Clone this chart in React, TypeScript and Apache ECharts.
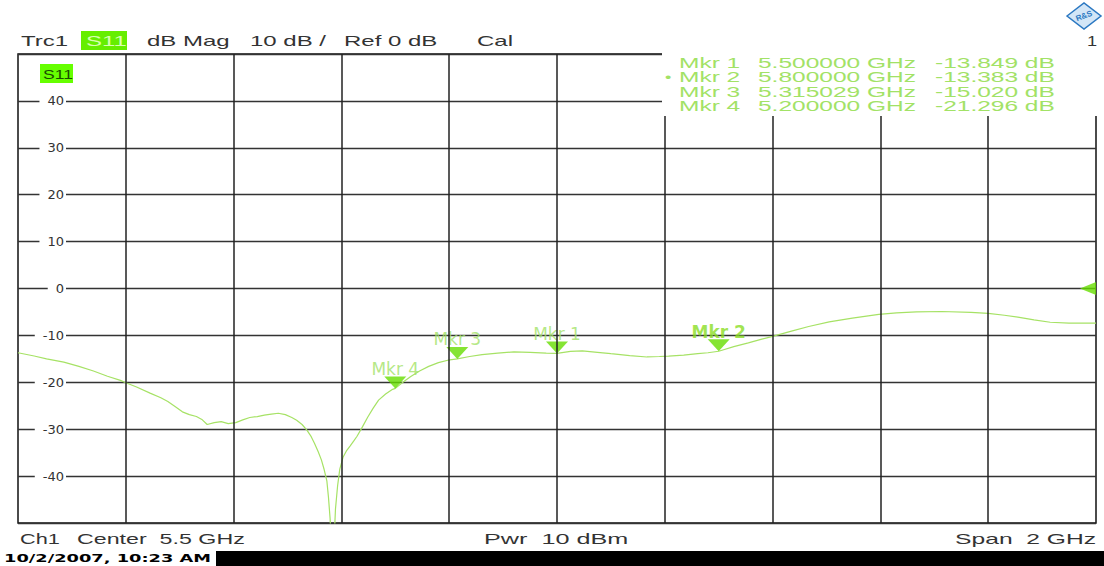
import React, { useEffect, useRef } from "react";
import * as echarts from "echarts";

// ---- Instrument settings ----
const CENTER_GHZ = 5.5;
const SPAN_GHZ = 2;
const REF_LEVEL_DB = 0;
const Y_MIN = -50;
const Y_MAX = 50;
const Y_STEP = 10;
const X_GRID_GHZ = [4.7, 4.9, 5.1, 5.3, 5.5, 5.7, 5.9, 6.1, 6.3];

// ---- Trace S11 (dB) ----
const FREQ_GHZ = [
  4.5, 4.53, 4.553, 4.585, 4.613, 4.64, 4.666, 4.69, 4.7, 4.72, 4.745, 4.765, 4.778, 4.792, 4.805,
  4.818, 4.831, 4.842, 4.851, 4.864, 4.877, 4.89, 4.904, 4.917, 4.93, 4.944, 4.957, 4.97, 4.983,
  4.996, 5.008, 5.017, 5.027, 5.036, 5.044, 5.05, 5.057, 5.063, 5.068, 5.073, 5.076, 5.079, 5.082,
  5.086, 5.089, 5.093, 5.097, 5.103, 5.11, 5.116, 5.123, 5.129, 5.139, 5.149, 5.159, 5.169, 5.182,
  5.195, 5.2, 5.214, 5.228, 5.245, 5.262, 5.28, 5.301, 5.315, 5.338, 5.361, 5.39, 5.42, 5.45, 5.48,
  5.5, 5.525, 5.547, 5.575, 5.6, 5.635, 5.667, 5.69, 5.707, 5.735, 5.761, 5.78, 5.8, 5.828, 5.855,
  5.88, 5.9, 5.935, 5.967, 6.005, 6.048, 6.097, 6.13, 6.167, 6.214, 6.268, 6.3, 6.33, 6.355, 6.385,
  6.415, 6.45, 6.5,
];
const S11_DB = [
  -13.7, -14.4, -15.0, -15.7, -16.6, -17.6, -18.7, -19.6, -20.1, -21.0, -22.3, -23.3, -24.1, -25.2,
  -26.3, -26.9, -27.3, -28.0, -29.0, -28.6, -28.4, -28.8, -28.6, -28.0, -27.5, -27.3, -27.0, -26.8,
  -26.6, -26.9, -27.5, -28.1, -29.0, -30.2, -31.6, -33.0, -34.8, -36.6, -38.6, -41.0, -44.5, -49.0,
  -56.0, -55.0, -47.0, -42.0, -38.5, -36.0, -34.5, -33.6, -32.5, -31.5, -29.5, -27.4, -25.5, -23.8,
  -22.5, -21.5, -21.3, -20.0, -18.8, -17.6, -16.6, -15.8, -15.2, -15.0, -14.5, -14.1, -13.8, -13.5,
  -13.6, -13.8, -13.85, -13.4, -13.3, -13.6, -13.9, -14.3, -14.6, -14.5, -14.4, -14.2, -13.9, -13.7,
  -13.38, -12.4, -11.6, -10.8, -10.2, -9.1, -8.1, -7.1, -6.3, -5.5, -5.2, -5.0, -4.9, -5.1, -5.3,
  -5.7, -6.1, -6.7, -7.2, -7.4, -7.4,
];

// ---- Markers ----
const MKR_NAMES = ["Mkr 1", "Mkr 2", "Mkr 3", "Mkr 4"];
const MKR_FREQ_GHZ = [5.5, 5.8, 5.315029, 5.2];
const MKR_DB = [-13.849, -13.383, -15.02, -21.296];
const ACTIVE_MKR = 1;

// ---- Header / footer texts ----
const HEADER_TEXTS = ["Trc1", "S11", "dB Mag", "10 dB /", "Ref 0 dB", "Cal"];
const CHANNEL = "Ch1";
const PWR_DBM = 10;
const TIMESTAMP = "10/2/2007, 10:23 AM";

const TRACE_COLOR = "#a6e265";
const MKR_COLOR = "#66dd00";
const MKR_TEXT = "#a2e266";
const FONT = "Liberation Sans";

function txt(x: number, y: number, text: string, fontSize: number, scaleX: number, extra: any = {}) {
  return {
    type: "text",
    x,
    y,
    scaleX,
    z: 100,
    silent: true,
    style: {
      text,
      fontSize,
      fontFamily: FONT,
      fill: "#333",
      align: "left",
      verticalAlign: "middle",
      textAlign: "left",
      textVerticalAlign: "middle",
      ...extra,
    },
  };
}

export default function App() {
  const ref = useRef<HTMLDivElement>(null);

  useEffect(() => {
    if (!ref.current) return;
    const chart = echarts.init(ref.current, undefined, { renderer: "svg" });
    const fStart = CENTER_GHZ - SPAN_GHZ / 2;
    const fStop = CENTER_GHZ + SPAN_GHZ / 2;

    const headerX = [21, 86, 147, 250, 344, 477];
    const graphics: any[] = [];
    // header
    graphics.push({ type: "rect", z: 99, silent: true, shape: { x: 81, y: 31, width: 46, height: 19 }, style: { fill: "#66ee00" } });
    HEADER_TEXTS.forEach((t, i) => {
      graphics.push(txt(headerX[i], 41, t, 15, 1.6, i === 1 ? { fill: "#d8ffb0" } : {}));
    });
    // S11 label inside plot
    graphics.push({ type: "rect", z: 99, silent: true, shape: { x: 40, y: 64, width: 33, height: 19 }, style: { fill: "#66ff00" } });
    graphics.push(txt(43, 74, HEADER_TEXTS[1], 13, 1.35, { fill: "#1a4d00" }));
    // marker table background
    graphics.push({ type: "rect", z: 99, silent: true, shape: { x: 662, y: 47, width: 442, height: 69 }, style: { fill: "#ffffff" } });
    const rowY = [63, 77.5, 92, 106.5];
    MKR_NAMES.forEach((n, i) => {
      const c = { fill: MKR_TEXT };
      if (i === ACTIVE_MKR) graphics.push(txt(665, rowY[i], "•", 13, 1.4, c));
      graphics.push(txt(679, rowY[i], n, 14, 1.75, c));
      graphics.push(txt(758, rowY[i], MKR_FREQ_GHZ[i].toFixed(6) + " GHz", 14, 1.75, c));
      graphics.push(txt(935, rowY[i], MKR_DB[i].toFixed(3) + " dB", 14, 1.75, c));
    });
    // logo
    graphics.push({
      type: "polygon", z: 100, silent: true,
      shape: { points: [[1067, 16], [1084, 3], [1101, 16], [1084, 29]] },
      style: { fill: "#d3e6f7", stroke: "#2b78c2", lineWidth: 1.5 },
    });
    graphics.push({
      type: "text", z: 101, silent: true, x: 1084, y: 16, rotation: 0.35,
      style: { text: "R&S", fontSize: 8, fontWeight: "bold", fontFamily: FONT, fill: "#2b78c2", align: "center", verticalAlign: "middle", textAlign: "center", textVerticalAlign: "middle" },
    });
    graphics.push(txt(1087, 41, "1", 14, 1.3));
    // footer
    graphics.push(txt(20, 539, CHANNEL, 14, 1.55));
    graphics.push(txt(77, 539, `Center  ${CENTER_GHZ} GHz`, 14, 1.66));
    graphics.push(txt(484, 539, `Pwr  ${PWR_DBM} dBm`, 14, 1.8));
    graphics.push(txt(1096, 539, `Span  ${SPAN_GHZ} GHz`, 14, 1.76, { align: "right", textAlign: "right" }));
    graphics.push({ type: "rect", z: 99, silent: true, shape: { x: 216, y: 551, width: 888, height: 15 }, style: { fill: "#000" } });
    graphics.push(txt(4, 558, TIMESTAMP, 11, 1.62, { fontFamily: "DejaVu Sans", fontWeight: "bold", fill: "#000" }));

    const option: any = {
      animation: false,
      backgroundColor: "#ffffff",
      grid: {
        left: 18, top: 54, width: 1078, height: 469,
        show: true, borderColor: "#111", borderWidth: 1.5, backgroundColor: "transparent",
      },
      xAxis: {
        type: "value", min: fStart, max: fStop,
        axisLine: { show: false }, axisTick: { show: false }, axisLabel: { show: false }, splitLine: { show: false },
      },
      yAxis: {
        type: "value", min: Y_MIN, max: Y_MAX, interval: Y_STEP,
        axisLine: { show: false }, axisTick: { show: false },
        splitLine: { show: true, lineStyle: { color: "#333", width: 1.3 } },
        axisLabel: {
          inside: true, align: "right", margin: 48, showMinLabel: false, showMaxLabel: false,
          fontFamily: "DejaVu Sans", fontSize: 13, color: "#333",
          backgroundColor: "#fff", padding: [1, 2, 1, 8],
        },
      },
      graphic: graphics,
      series: [
        {
          type: "line", name: "grid", data: [], z: 1, silent: true,
          markLine: {
            silent: true, symbol: ["none", "none"], animation: false,
            label: { show: false },
            lineStyle: { color: "#222", width: 1.5, type: "solid" },
            data: X_GRID_GHZ.map((v) => ({ xAxis: v })),
          },
        },
        {
          type: "line", name: "Trc1 S11", z: 3, showSymbol: false, clip: true,
          lineStyle: { color: TRACE_COLOR, width: 1.2 },
          data: FREQ_GHZ.map((f, i) => [f, S11_DB[i]]),
        },
        {
          type: "scatter", name: "markers", z: 4, clip: false,
          symbol: "triangle", symbolRotate: 180, symbolSize: [22, 12], symbolOffset: [0, -6],
          itemStyle: { color: MKR_COLOR },
          label: {
            show: true, position: "top", distance: -1, formatter: "{b}",
            color: MKR_TEXT, fontFamily: "DejaVu Sans", fontSize: 17,
          },
          data: MKR_NAMES.map((n, i) => ({
            name: n,
            value: [MKR_FREQ_GHZ[i], MKR_DB[i]],
            label: i === ACTIVE_MKR ? { fontWeight: "bold", color: "#88dd22" } : undefined,
          })),
        },
        {
          type: "scatter", name: "ref", z: 4, clip: false, silent: true,
          symbol: "triangle", symbolRotate: 90, symbolSize: [13, 16], symbolOffset: [-8, 0],
          itemStyle: { color: MKR_COLOR },
          data: [[fStop, REF_LEVEL_DB]],
        },
      ],
    };
    chart.setOption(option);
    return () => chart.dispose();
  }, []);

  return (
    <div
      ref={ref}
      style={{ position: "absolute", left: 0, top: 0, width: 1104, height: 566, background: "#fff" }}
    />
  );
}
